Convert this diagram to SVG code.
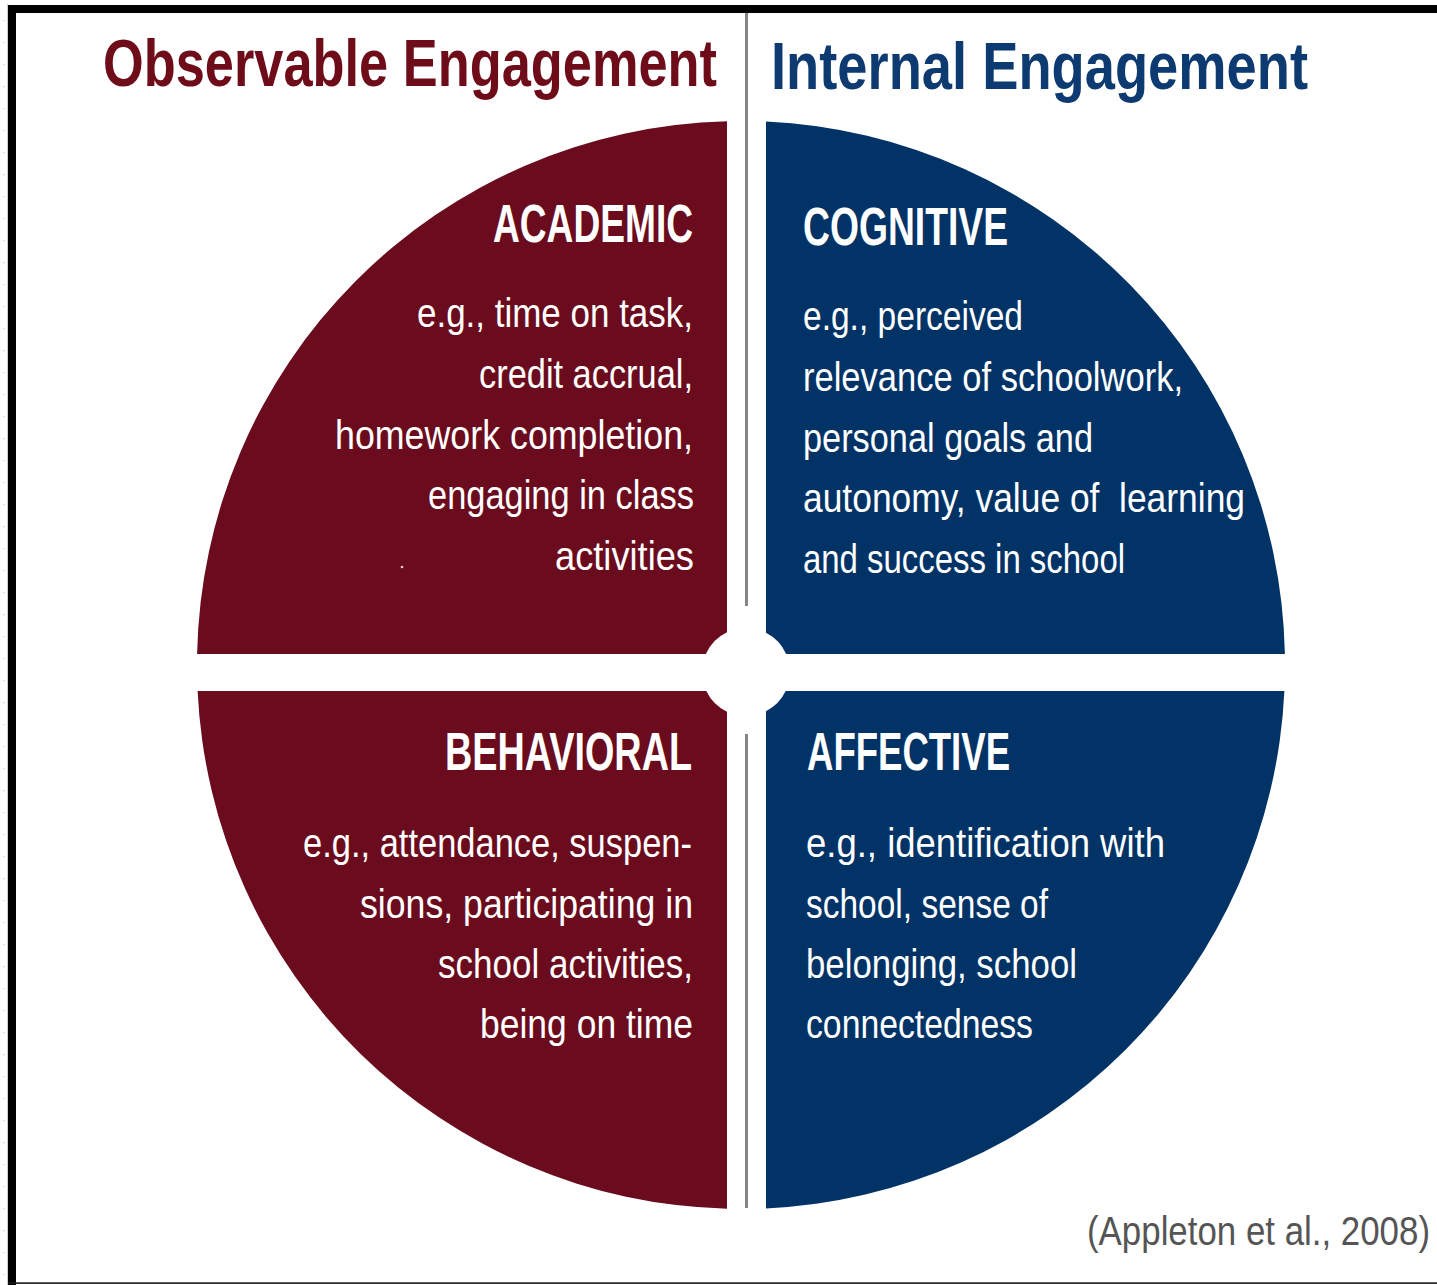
<svg xmlns="http://www.w3.org/2000/svg" width="1437" height="1285" viewBox="0 0 1437 1285">
  <defs>
    <style>
      text { font-family: "Liberation Sans Narrow", "Liberation Sans", Arial, sans-serif; }
      .title { font-weight: bold; font-size: 66px; }
      .obs { fill: #6e0c1a; }
      .int { fill: #0d3a70; }
      .head { font-weight: bold; font-size: 53px; fill: #ffffff; }
      .body { font-size: 40px; fill: #ffffff; }
      .cite { font-size: 41px; fill: #555555; }
      .maroon { fill: #6b0c1e; }
      .navy { fill: #023366; }
      .divider { fill: #858585; }
    </style>
    <pattern id="dots" patternUnits="userSpaceOnUse" x="0" y="0" width="8" height="22">
      <rect x="3" y="20" width="2" height="1.2" fill="#f3d6c8"/>
    </pattern>
  </defs>

  <!-- background and frame -->
  <rect x="0" y="0" width="1437" height="1285" fill="#ffffff"/>
  <rect x="0" y="0" width="7" height="1285" fill="url(#dots)"/>
  <rect x="7" y="4" width="1" height="1281" fill="#cccccc"/>
  <rect x="8" y="5" width="1429" height="8" fill="#000000"/>
  <rect x="8" y="5" width="8" height="1280" fill="#000000"/>
  <rect x="8" y="1282.3" width="1429" height="1.6" fill="#1a1a1a"/>

  <!-- titles -->
  <g id="title-observable">
    <text class="title obs" x="103" y="86" textLength="614" lengthAdjust="spacingAndGlyphs">Observable Engagement</text>
  </g>
  <g id="title-internal">
    <text class="title int" x="771" y="89" textLength="537" lengthAdjust="spacingAndGlyphs">Internal Engagement</text>
  </g>

  <!-- divider lines -->
  <g id="connectors">
    <rect class="divider" x="745" y="13" width="3" height="593"/>
    <rect class="divider" x="745" y="734" width="3" height="474"/>
  </g>

  <!-- ACADEMIC -->
  <g id="academic">
    <path class="maroon" d="M727 121.2 L727 632.3 A44 44 0 0 0 705.85 654 L197.1 654 A544 544 0 0 1 727 121.2 Z"/>
    <text class="head" x="493" y="242" textLength="200" lengthAdjust="spacingAndGlyphs">ACADEMIC</text>
    <text class="body" x="417" y="327" textLength="276" lengthAdjust="spacingAndGlyphs">e.g., time on task,</text>
    <text class="body" x="479" y="388" textLength="214" lengthAdjust="spacingAndGlyphs">credit accrual,</text>
    <text class="body" x="335" y="449" textLength="358" lengthAdjust="spacingAndGlyphs">homework completion,</text>
    <text class="body" x="428" y="509" textLength="266" lengthAdjust="spacingAndGlyphs">engaging in class</text>
    <text class="body" x="555" y="570" textLength="139" lengthAdjust="spacingAndGlyphs">activities</text>
    <circle cx="402" cy="567" r="1.3" fill="#e6cfd3"/>
  </g>

  <!-- COGNITIVE -->
  <g id="cognitive">
    <path class="navy" d="M766 121.6 A544 544 0 0 1 1284.9 654 L786.15 654 A44 44 0 0 0 766 632.8 Z"/>
    <text class="head" x="803" y="245" textLength="205" lengthAdjust="spacingAndGlyphs">COGNITIVE</text>
    <text class="body" x="803" y="330" textLength="220" lengthAdjust="spacingAndGlyphs">e.g., perceived</text>
    <text class="body" x="803" y="391" textLength="380" lengthAdjust="spacingAndGlyphs">relevance of schoolwork,</text>
    <text class="body" x="803" y="452" textLength="290" lengthAdjust="spacingAndGlyphs">personal goals and</text>
    <text class="body" x="803" y="512" textLength="442" lengthAdjust="spacingAndGlyphs" xml:space="preserve">autonomy, value of  learning</text>
    <text class="body" x="803" y="573" textLength="322" lengthAdjust="spacingAndGlyphs">and success in school</text>
  </g>

  <!-- BEHAVIORAL -->
  <g id="behavioral">
    <path class="maroon" d="M197.6 691 L706.3 691 A44 44 0 0 0 727 711.7 L727 1208.8 A544 544 0 0 1 197.6 691 Z"/>
    <text class="head" x="445" y="770" textLength="247" lengthAdjust="spacingAndGlyphs">BEHAVIORAL</text>
    <text class="body" x="303" y="857" textLength="389" lengthAdjust="spacingAndGlyphs">e.g., attendance, suspen-</text>
    <text class="body" x="360" y="918" textLength="333" lengthAdjust="spacingAndGlyphs">sions, participating in</text>
    <text class="body" x="438" y="978" textLength="255" lengthAdjust="spacingAndGlyphs">school activities,</text>
    <text class="body" x="480" y="1038" textLength="213" lengthAdjust="spacingAndGlyphs">being on time</text>
  </g>

  <!-- AFFECTIVE -->
  <g id="affective">
    <path class="navy" d="M785.7 691 L1284.4 691 A544 544 0 0 1 766 1208.4 L766 711.2 A44 44 0 0 0 785.7 691 Z"/>
    <text class="head" x="807" y="770" textLength="203" lengthAdjust="spacingAndGlyphs">AFFECTIVE</text>
    <text class="body" x="806" y="857" textLength="359" lengthAdjust="spacingAndGlyphs">e.g., identification with</text>
    <text class="body" x="806" y="918" textLength="242" lengthAdjust="spacingAndGlyphs">school, sense of</text>
    <text class="body" x="806" y="978" textLength="271" lengthAdjust="spacingAndGlyphs">belonging, school</text>
    <text class="body" x="806" y="1038" textLength="227" lengthAdjust="spacingAndGlyphs">connectedness</text>
  </g>

  <!-- citation -->
  <g id="citation">
    <text class="cite" x="1087" y="1245" textLength="343" lengthAdjust="spacingAndGlyphs">(Appleton et al., 2008)</text>
  </g>
</svg>
